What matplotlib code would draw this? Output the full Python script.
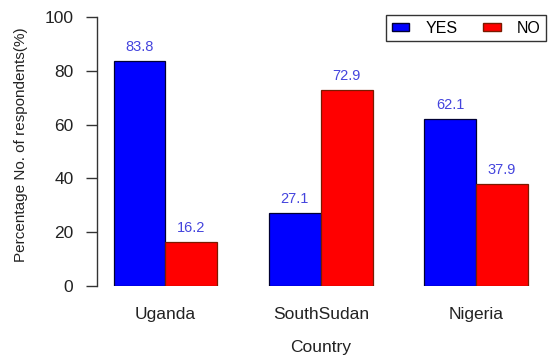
import matplotlib
matplotlib.use("Agg")
import matplotlib.pyplot as plt
import numpy as np
from matplotlib.patches import Patch

countries = ["Uganda", "SouthSudan", "Nigeria"]
yes_vals = [83.8, 27.1, 62.1]
no_vals = [16.2, 72.9, 37.9]
series_names = ["YES", "NO"]
yticks = [0, 20, 40, 60, 80, 100]

plt.rcParams['font.family'] = ['Liberation Sans', 'DejaVu Sans']

fig = plt.figure(figsize=(5.5, 3.59), dpi=100)
ax = fig.add_axes([97/550, 73/359, (544.6-97)/550, (286-17)/359])

n = len(countries)
starts = np.arange(n) * 3 + 1
yes_x = starts + 0.5
no_x = starts + 1.5
ax.bar(yes_x, yes_vals, width=1.0, color="#0000FF", edgecolor="#000033", linewidth=0.9)
ax.bar(no_x, no_vals, width=1.0, color="#FF0000", edgecolor="#7a1a00", linewidth=0.9)

lab_color = "#4444DD"
for x, v in zip(yes_x, yes_vals):
    ax.annotate(f"{v}", (x, v), xytext=(0, 5), textcoords="offset points",
                ha="center", va="bottom", fontsize=10.5, color=lab_color)
for x, v in zip(no_x, no_vals):
    ax.annotate(f"{v}", (x, v), xytext=(0, 5), textcoords="offset points",
                ha="center", va="bottom", fontsize=10.5, color=lab_color)

ax.set_xlim(0.68, 9.32)
ax.set_ylim(0, 100)
ax.set_yticks(yticks)
ax.set_yticklabels([str(t) for t in yticks], fontsize=12.5, color="#222222")
ax.tick_params(axis="y", length=8, width=1, color="#333333", pad=9, direction="out")
ax.set_xticks(starts + 1)
ax.set_xticklabels(countries, fontsize=12.5, color="#222222")
ax.tick_params(axis="x", length=0, pad=15)
for s in ["top", "right", "bottom"]:
    ax.spines[s].set_visible(False)
ax.spines["left"].set_color("#333333")
ax.spines["left"].set_linewidth(1)

ax.set_xlabel("Country", fontsize=12.5, color="#222222", labelpad=13)
ax.set_ylabel("Percentage No. of respondents(%)", fontsize=11, color="#222222")
ax.yaxis.set_label_coords(-0.154, 0.524)

handles = [Patch(facecolor="#0000FF", edgecolor="#000033", label="YES"),
           Patch(facecolor="#FF0000", edgecolor="#7a1a00", label="NO")]
leg = fig.legend(handles=handles, ncol=2, loc="upper right",
                 bbox_to_anchor=(546/550, 1 - 15/359), fontsize=11.5,
                 frameon=True, fancybox=False, edgecolor="black",
                 handlelength=1.1, handleheight=0.45, columnspacing=1.6,
                 borderpad=0.35, handletextpad=1.0, borderaxespad=0)
leg.get_frame().set_linewidth(1)

fig.savefig("out.png", dpi=100)
